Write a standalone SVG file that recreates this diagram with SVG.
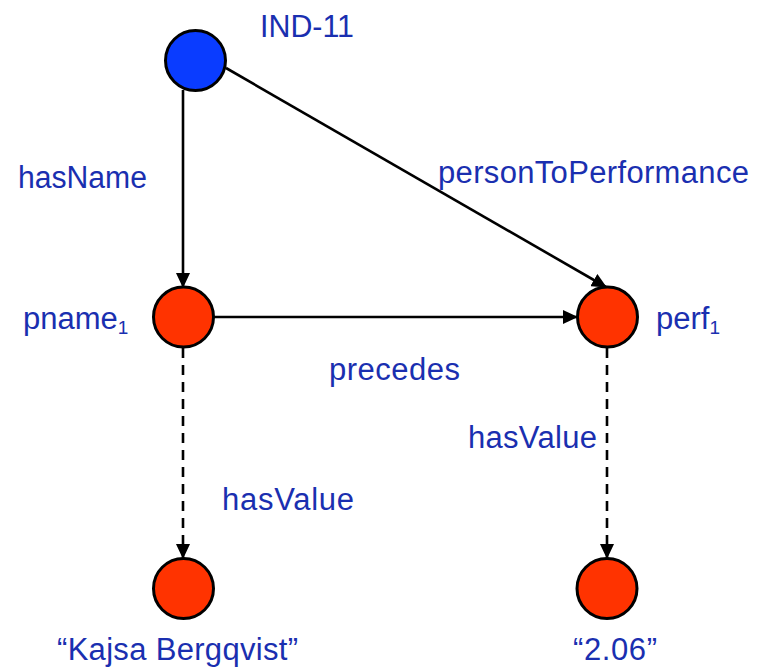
<svg xmlns="http://www.w3.org/2000/svg" width="758" height="668" viewBox="0 0 758 668">
  <defs>
    <marker id="arrow" markerWidth="15" markerHeight="14" refX="14" refY="7" orient="auto" markerUnits="userSpaceOnUse">
      <path d="M0,0 L15,7 L0,14 Z" fill="#000"/>
    </marker>
  </defs>
  <style>
    .node { stroke: #000; stroke-width: 3; }
    .ind { fill: #0a3cff; }
    .val { fill: #ff3300; }
    .edge { stroke: #000; stroke-width: 2.6; fill: none; marker-end: url(#arrow); }
    .dashed { stroke-dasharray: 10 7; }
    .lbl { font-family: "Liberation Sans", Arial, sans-serif; font-size: 31px; fill: #1a2fb0; }
    .sub { font-size: 19px; }
  </style>
  <rect width="758" height="668" fill="#fff"/>

  <g id="connectors">
    <line class="edge" x1="183" y1="90" x2="183" y2="287"/>
    <line class="edge" x1="226" y1="68" x2="606" y2="287"/>
    <line class="edge" x1="214" y1="317" x2="577" y2="317"/>
    <line class="edge dashed" x1="183" y1="348" x2="183" y2="558"/>
    <line class="edge dashed" x1="607" y1="348" x2="607" y2="558"/>
    <text class="lbl" x="18" y="188" textLength="129" lengthAdjust="spacingAndGlyphs">hasName</text>
    <text class="lbl" x="438" y="183" textLength="311" lengthAdjust="spacing">personToPerformance</text>
    <text class="lbl" x="329" y="380" textLength="131" lengthAdjust="spacing">precedes</text>
    <text class="lbl" x="468" y="448" textLength="129" lengthAdjust="spacing">hasValue</text>
    <text class="lbl" x="222" y="510" textLength="132" lengthAdjust="spacing">hasValue</text>
  </g>

  <g id="ind11">
    <circle class="node ind" cx="195.5" cy="60.5" r="30"/>
    <text class="lbl" x="260" y="37" textLength="94" lengthAdjust="spacingAndGlyphs">IND-11</text>
  </g>

  <g id="pname1">
    <circle class="node val" cx="183.5" cy="317" r="30"/>
    <text class="lbl" x="23" y="329">pname<tspan class="sub" dy="5">1</tspan></text>
  </g>

  <g id="perf1">
    <circle class="node val" cx="607.5" cy="317" r="30"/>
    <text class="lbl" x="656" y="329">perf<tspan class="sub" dy="5">1</tspan></text>
  </g>

  <g id="name-value">
    <circle class="node val" cx="183.5" cy="588.5" r="30"/>
    <text class="lbl" x="57" y="660" textLength="241" lengthAdjust="spacing">“Kajsa Bergqvist”</text>
  </g>

  <g id="perf-value">
    <circle class="node val" cx="607" cy="588.5" r="30"/>
    <text class="lbl" x="573" y="660" textLength="84" lengthAdjust="spacing">“2.06”</text>
  </g>
</svg>
